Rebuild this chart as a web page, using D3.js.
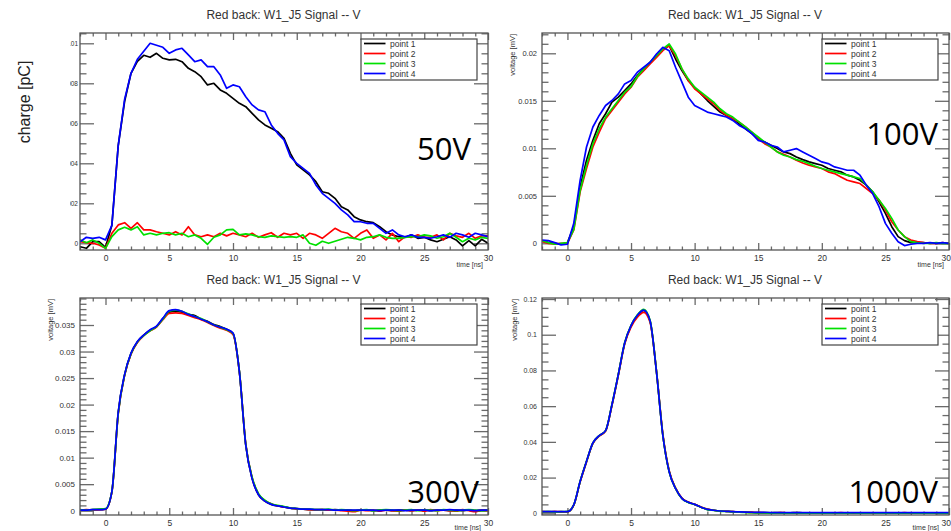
<!DOCTYPE html>
<html><head><meta charset="utf-8">
<script src="https://cdn.jsdelivr.net/npm/d3@7"></script>
<style>body{margin:0;background:#fff;}svg{display:block;}</style>
</head><body>
<svg id="c" width="951" height="531"></svg>
<script>
// ---------- DATA ----------
const seriesNames = ["point 1", "point 2", "point 3", "point 4"];
const seriesColors = ["#000000", "#ff0000", "#00e000", "#0000ff"];
const panelTitle = "Red back: W1_J5 Signal -- V";
const voltageTags = ["50V", "100V", "300V", "1000V"];
const xTickValues = [0, 5, 10, 15, 20, 25, 30];
const xTickLabels = ["0", "5", "10", "15", "20", "25", "30"];

// time samples [ns]
const time = [-2,-1.5,-1,-0.5,0,
  0.5,1,1.5,2,2.5,3,3.5,4,4.5,5,5.5,6,6.5,7,7.5,8,8.5,9,9.5,10,
  10.5,11,11.5,12,12.5,13,13.5,14,14.5,15,15.5,16,16.5,17,17.5,18,18.5,19,19.5,20,
  20.5,21,21.5,22,22.5,23,23.5,24,24.5,25,25.5,26,26.5,27,27.5,28,28.5,29,29.5,30];

// 50V  (charge [pC])
const yTicks50 = [0, 0.002, 0.004, 0.006, 0.008, 0.01];
const yTickLabels50 = ["0", "0.002", "0.004", "0.006", "0.008", "0.01"];
const v50_p1 = [-0.00017,-0.00025,0.00008,0.00008,-0.0002,
  0.0009,0.0049,0.0071,0.0085,0.0091,0.0094,0.0093,0.0095,0.00925,0.00917,0.0092,0.00908,0.00875,0.00858,0.00833,0.00792,0.008,0.00767,0.0075,0.00725,
  0.007,0.00683,0.0065,0.00617,0.00592,0.00575,0.00558,0.00525,0.0045,0.00392,0.00367,0.00342,0.00308,0.00258,0.0025,0.00225,0.00183,0.00167,0.00133,0.00117,
  0.00108,0.00103,0.00083,0.00058,0.00042,0.00033,0.0003,0.00042,0.00025,0.0003,0.00017,0.00008,0.0002,0.00033,0.00017,-0.00013,0.00013,-0.00013,0.0002,0];
const v50_p2 = [0.00008,0.00003,0,-0.00008,-0.00025,
  0.0005,0.00092,0.00103,0.00075,0.00103,0.00067,0.00067,0.00058,0.0005,0.00042,0.00058,0.00042,0.00083,0.00042,0.00033,0.00042,0.00033,0.0005,0.00037,0.0005,
  0.00042,0.00033,0.0005,0.0003,0.00042,0.00053,0.0003,0.0005,0.00042,0.0005,0.00025,0.0005,0.00042,0.00025,0.0005,0.00075,0.00058,0.0005,0.00025,0.0005,
  0.00067,0.00025,0.00042,0.00017,0.0005,0.00008,0.00033,0.0003,0.00042,0.0003,0.0003,0.00042,0.00017,0.0005,0.00037,0.0003,0.0005,0.00025,0.00037,0.00037];
const v50_p3 = [0.00017,0.00003,0.00017,0,-0.00025,
  0.00033,0.00067,0.0008,0.00067,0.00083,0.00042,0.0005,0.00042,0.0005,0.00053,0.00042,0.0005,0.00033,0.00042,0.00025,-0.00005,0.0003,0.00042,0.00067,0.0007,
  0.00042,0.00047,0.00042,0.00033,0.0003,0.00037,0.00033,0.0003,0.00033,0.0003,0.00042,0,-0.0001,0.0001,0,0.0001,0.0002,0.0003,0.00025,0.00017,
  0.0003,0.00033,0.00042,0.0003,0.00025,0.00025,0.0003,0.00033,0.00033,0.00042,0.00037,0.00025,0.00033,0.0005,0.0003,0.00008,0.00025,0.00017,0.0003,0.00025];
const v50_p4 = [0.00008,0.0003,0.00025,0.0003,0.00017,
  0.0009,0.0049,0.0072,0.0085,0.0092,0.0096,0.01,0.0099,0.0098,0.0095,0.00967,0.00975,0.00942,0.00908,0.00917,0.00883,0.00883,0.00842,0.00775,0.00792,
  0.00783,0.00733,0.00692,0.00667,0.00658,0.00592,0.0055,0.00517,0.00433,0.004,0.00375,0.0035,0.00292,0.0025,0.00225,0.002,0.00167,0.00142,0.00108,0.00108,
  0.001,0.001,0.00075,0.0005,0.00067,0.00042,0.00033,0.00042,0.0003,0.0003,0.00025,0.00033,0.00042,0.0003,0.0005,0.00042,0.0003,0.0005,0.00042,0.00033];

// 100V (voltage [mV])
const yTicks100 = [0, 0.005, 0.01, 0.015, 0.02];
const yTickLabels100 = ["0", "0.005", "0.01", "0.015", "0.02"];
const v100_p1 = [0.00028,0.00007,0,-0.0001,0.00007,
  0.00175,0.00594,0.00874,0.01084,0.01259,0.01364,0.01486,0.01538,0.01608,0.01678,0.01766,0.01836,0.01906,0.01976,0.0204,0.0208,0.0194,0.01818,0.01713,0.01643,
  0.01573,0.01503,0.01441,0.01381,0.01346,0.01311,0.01259,0.01206,0.01154,0.01101,0.01066,0.01031,0.00997,0.00962,0.00944,0.00909,0.00881,0.00857,0.00839,0.00822,
  0.00787,0.00769,0.00752,0.00717,0.00699,0.00664,0.00612,0.00542,0.00437,0.00315,0.00175,0.0007,0.00028,0.00007,0.00007,0.00007,0,0,0,0];
const v100_p2 = [0.00017,0,-0.00007,0,0,
  0.0014,0.00542,0.00787,0.01014,0.01171,0.01311,0.01399,0.01486,0.01573,0.01643,0.01748,0.01818,0.01888,0.01958,0.02028,0.0208,0.01976,0.01836,0.01713,0.01626,
  0.01573,0.01521,0.01469,0.01399,0.01346,0.01311,0.01276,0.01224,0.01171,0.01101,0.01049,0.01014,0.00962,0.00937,0.00909,0.00874,0.00846,0.00822,0.00804,0.00787,
  0.00752,0.00734,0.00699,0.00664,0.00647,0.00629,0.00577,0.00524,0.00455,0.0035,0.00227,0.0014,0.0007,0.00035,0.00017,0.00007,0,0,0.00007,0];
const v100_p3 = [0.00028,0.00007,-0.0001,0,0.00007,
  0.00147,0.00559,0.00822,0.01049,0.01206,0.01329,0.01416,0.01503,0.01591,0.0165,0.01755,0.01836,0.01906,0.01976,0.02045,0.02098,0.01993,0.01836,0.01731,0.01643,
  0.01591,0.01538,0.01486,0.01416,0.01364,0.01329,0.01276,0.01224,0.01171,0.01119,0.01066,0.01014,0.00962,0.00927,0.00909,0.00881,0.00864,0.00839,0.00811,0.00787,
  0.00769,0.00752,0.00734,0.00717,0.00699,0.00682,0.00612,0.00542,0.00455,0.00367,0.00262,0.0014,0.0007,0.00017,0.00007,0,0,0.00007,0,0];
const v100_p4 = [0.00035,0.00028,0.00007,-0.00017,-0.0001,
  0.0021,0.00664,0.01014,0.01224,0.01346,0.01451,0.01503,0.01573,0.01678,0.01713,0.01801,0.01853,0.01906,0.01993,0.02063,0.02028,0.01853,0.01696,0.01538,0.01451,
  0.01416,0.01381,0.01364,0.01346,0.01329,0.01294,0.01241,0.01206,0.01154,0.01084,0.01066,0.01031,0.01014,0.00962,0.00979,0.00997,0.00962,0.00927,0.00892,0.00857,
  0.00839,0.00804,0.00787,0.00769,0.00769,0.00717,0.00612,0.00524,0.00385,0.0021,0.00105,0.00017,-0.00024,-0.0001,0,0,0.00007,0,0.00007,0];

// 300V (voltage [mV])
const yTicks300 = [0, 0.005, 0.01, 0.015, 0.02, 0.025, 0.03, 0.035];
const yTickLabels300 = ["0", "0.005", "0.01", "0.015", "0.02", "0.025", "0.03", "0.035"];
const v300_p1 = [0.0001,0.0001,0.0002,0.0002,0.0003,
  0.0036,0.0185,0.0256,0.0296,0.0318,0.0331,0.034,0.0347,0.0362,0.0374,0.0376,0.0374,0.037,0.0368,0.0361,0.0357,0.0351,0.0347,0.0342,0.0334,
  0.0262,0.0124,0.0061,0.003,0.0018,0.0012,0.0009,0.0007,0.0005,0.0004,0.0003,0.0002,0.0002,0.0002,0.0001,0.0002,0.0001,0.0001,0,0.0001,
  0.0001,0,0.0001,0.0001,0,0.0001,0.0001,0,0.0001,0.0001,0,0.0001,0.0001,0,0.0001,0,0.0001,0,0.0001,0.0001];
const v300_p2 = [0.0001,0.0002,0.0001,0.0002,0.0003,
  0.0035,0.0183,0.0255,0.0295,0.0317,0.033,0.0339,0.0346,0.036,0.0372,0.0373,0.0372,0.0368,0.0364,0.036,0.0355,0.0349,0.0344,0.034,0.0332,
  0.0262,0.0126,0.0062,0.0031,0.0019,0.0013,0.0009,0.0007,0.0005,0.0003,0.0003,0.0002,0.0001,0.0002,0.0001,0.0001,0,-0.0001,-0.0002,0.0001,
  0,0.0001,-0.0001,0.0001,0,-0.0001,0.0001,0,0.0001,-0.0001,0.0002,0,0.0001,0,-0.0001,0.0002,0,-0.0002,0.0001,0];
const v300_p3 = [0.0002,0.0001,0.0002,0.0003,0.0004,
  0.0036,0.0184,0.0256,0.0296,0.0318,0.033,0.0339,0.0347,0.0361,0.0376,0.0378,0.0376,0.0371,0.0366,0.0362,0.0356,0.035,0.0346,0.0341,0.0334,
  0.0263,0.0125,0.0063,0.0032,0.002,0.0013,0.001,0.0008,0.0005,0.0004,0.0003,0.0003,0.0002,0.0002,0.0003,0.0001,0.0002,0.0001,0,0.0001,
  0.0002,0,0.0001,0.0002,0.0001,0,0.0001,0.0002,0,0.0001,0.0001,0,0.0002,0.0001,0,0.0001,0.0002,0.0001,0,0.0001];
const v300_p4 = [0.0001,0.0001,0.0002,0.0002,0.0003,
  0.0036,0.0186,0.0257,0.0297,0.0319,0.0331,0.0341,0.0348,0.0363,0.0377,0.0379,0.0376,0.037,0.0366,0.0361,0.0356,0.035,0.0346,0.0342,0.0335,
  0.0262,0.0124,0.006,0.003,0.0018,0.0012,0.0009,0.0007,0.0005,0.0004,0.0003,0.0003,0.0002,0.0002,0.0002,0.0001,0.0001,0.0001,0.0001,0.0001,
  0.0001,0.0001,0,0.0001,0.0001,0.0001,0,0.0001,0.0001,0.0001,0,0.0001,0.0001,0.0002,0.0001,0.0001,0.0001,0,0.0001,0.0001];

// 1000V (voltage [mV])
const yTicks1000 = [0, 0.02, 0.04, 0.06, 0.08, 0.1, 0.12];
const yTickLabels1000 = ["0", "0.02", "0.04", "0.06", "0.08", "0.1", "0.12"];
const v1000_p1 = [0.0009,0.0009,0.0009,0.0008,0.0009,
  0.0047,0.0178,0.029,0.0393,0.0434,0.0462,0.0607,0.0776,0.0953,0.105,0.1107,0.1136,0.1075,0.0794,0.0439,0.0234,0.014,0.0084,0.0062,0.005,
  0.0034,0.0022,0.0017,0.0013,0.0011,0.0009,0.0008,0.0006,0.0005,0.0004,0.0004,0.0003,0.0004,0.0003,0.0003,0.0004,0.0003,0.0003,0.0002,0.0003,
  0.0003,0.0002,0.0003,0.0003,0.0002,0.0003,0.0002,0.0003,0.0002,0.0002,0.0003,0.0002,0.0002,0.0003,0.0002,0.0002,0.0003,0.0002,0.0002,0.0002];
const v1000_p2 = [0.0009,0.0008,0.0009,0.0009,0.0008,
  0.0046,0.0176,0.0288,0.0391,0.0432,0.046,0.0604,0.0772,0.0948,0.1043,0.1098,0.1125,0.1068,0.0796,0.0445,0.0238,0.0142,0.0086,0.0063,0.005,
  0.0035,0.0023,0.0017,0.0013,0.0011,0.0009,0.0007,0.0006,0.0005,0.0004,0.0003,0.0003,0.0003,0.0004,0.0002,0.0003,0.0003,0.0002,0.0003,0.0002,
  0.0003,0.0002,0.0004,0.0002,0.0003,0.0002,0.0003,0.0001,0.0003,0.0002,0.0003,0.0002,0.0004,0.0002,0.0002,0.0003,0.0002,0.0003,0.0002,0.0003];
const v1000_p3 = [0.0008,0.0009,0.0008,0.0009,0.0009,
  0.0047,0.018,0.0291,0.0394,0.0435,0.0463,0.0609,0.0778,0.0955,0.1053,0.1111,0.1142,0.108,0.0795,0.0438,0.0233,0.0139,0.0083,0.0061,0.0049,
  0.0034,0.0021,0.0016,0.0012,0.001,0.0008,0.0006,0.0005,0.0003,0.0002,0.0002,0.0001,0.0002,0.0001,0.0001,0.0002,0.0001,0.0001,0.0001,0.0001,
  0.0001,0.0002,0.0001,0.0001,0.0002,0.0001,0.0001,0.0002,0.0001,0.0001,0.0002,0.0001,0.0001,0.0002,0.0001,0.0001,0.0001,0.0002,0.0001,0.0001];
const v1000_p4 = [0.0009,0.0009,0.0009,0.0009,0.0009,
  0.0048,0.0179,0.0291,0.0394,0.0435,0.0463,0.0608,0.0777,0.0954,0.1051,0.1109,0.1138,0.1077,0.0793,0.0437,0.0233,0.0139,0.0084,0.0062,0.005,
  0.0034,0.0022,0.0017,0.0013,0.0011,0.0009,0.0008,0.0007,0.0006,0.0005,0.0005,0.0004,0.0004,0.0004,0.0004,0.0004,0.0004,0.0004,0.0004,0.0004,
  0.0004,0.0004,0.0004,0.0004,0.0004,0.0004,0.0004,0.0004,0.0004,0.0004,0.0004,0.0004,0.0004,0.0004,0.0004,0.0004,0.0004,0.0004,0.0004,0.0004];

// ---------- LAYOUT ----------
const panels = [
  { x0: 80, x1: 488, y0: 33, y1: 250, yDom: [-0.000335, 0.010515], ticks: yTicks50, labels: yTickLabels50, minor: 0.0005,
    series: [v50_p1, v50_p2, v50_p3, v50_p4], tag: voltageTags[0], tagX: 471, tagY: 160, yLabFont: 6.5, labClip: 70,
    yTitle: null, curve: d3.curveLinear, xtEnd: 5 },
  { x0: 542, x1: 949, y0: 33, y1: 250, yDom: [-0.000705, 0.022137], ticks: yTicks100, labels: yTickLabels100, minor: 0.001,
    series: [v100_p1, v100_p2, v100_p3, v100_p4], tag: voltageTags[1], tagX: 938, tagY: 145, yLabFont: 7.5,
    yTitle: [514.5, 34], curve: d3.curveLinear, xtEnd: 5 },
  { x0: 80, x1: 488, y0: 298, y1: 515, yDom: [-0.00081, 0.04009], ticks: yTicks300, labels: yTickLabels300, minor: 0.001,
    series: [v300_p1, v300_p2, v300_p3, v300_p4], tag: voltageTags[2], tagX: 479, tagY: 503, yLabFont: 8,
    yTitle: [53, 299], curve: d3.curveMonotoneX, xtEnd: 7 },
  { x0: 542, x1: 949, y0: 298, y1: 515, yDom: [-0.00095, 0.12056], ticks: yTicks1000, labels: yTickLabels1000, minor: 0.005,
    series: [v1000_p1, v1000_p2, v1000_p3, v1000_p4], tag: voltageTags[3], tagX: 938, tagY: 503, yLabFont: 7,
    yTitle: [516.5, 299], curve: d3.curveMonotoneX, xtEnd: 10 }
];

const W = 951, H = 531;
const svg = d3.select("#c");
const FONT = "'Liberation Sans', Arial, sans-serif";
const TICKC = "#6a6a6a";

function minorVals(step, lo, hi, majors) {
  const out = [];
  const n0 = Math.ceil(lo / step), n1 = Math.floor(hi / step);
  for (let n = n0; n <= n1; n++) {
    const v = +(n * step).toFixed(6);
    if (!majors.some(m => Math.abs(m - v) < step / 10)) out.push(v);
  }
  return out;
}

function styleAxis(sel) {
  sel.select(".domain").remove();
  sel.selectAll(".tick line").attr("stroke", TICKC).attr("stroke-width", 1.3);
  sel.selectAll(".tick text").attr("fill", "#333").attr("font-family", FONT);
}

panels.forEach((p, i) => {
  const x = d3.scaleLinear().domain([-2, 30]).range([p.x0, p.x1]);
  const y = d3.scaleLinear().domain(p.yDom).range([p.y1, p.y0]);
  const g = svg.append("g");
  const xMinor = minorVals(1, -2, 30, xTickValues);
  const yMinor = minorVals(p.minor, p.yDom[0], p.yDom[1], p.ticks);

  // x axes (bottom with labels, top mirrored)
  const bx = g.append("g").attr("transform", `translate(0,${p.y1})`)
    .call(d3.axisBottom(x).tickValues(xTickValues).tickSize(-7).tickPadding(5)
      .tickFormat((d, k) => xTickLabels[k]))
    .call(styleAxis).call(s => s.selectAll("text").attr("font-size", 8.5));
  // keep the right-most label inside the window
  bx.selectAll(".tick text").filter(d => x(d) + 5 > W).attr("text-anchor", "end").attr("x", W - 0.5 - x(30));
  g.append("g").attr("transform", `translate(0,${p.y1})`)
    .call(d3.axisBottom(x).tickValues(xMinor).tickSize(-3.5).tickFormat(""))
    .call(styleAxis);
  g.append("g").attr("transform", `translate(0,${p.y0})`)
    .call(d3.axisTop(x).tickValues(xTickValues).tickSize(-7).tickFormat(""))
    .call(styleAxis);
  g.append("g").attr("transform", `translate(0,${p.y0})`)
    .call(d3.axisTop(x).tickValues(xMinor).tickSize(-3.5).tickFormat(""))
    .call(styleAxis);

  // y axes
  const left = g.append("g").attr("transform", `translate(${p.x0},0)`)
    .call(d3.axisLeft(y).tickValues(p.ticks).tickSize(-14).tickPadding(p.labClip ? 2 : 5)
      .tickFormat((d, k) => p.labels[k]))
    .call(styleAxis).call(s => s.selectAll("text").attr("font-size", p.yLabFont));
  if (p.labClip) {
    // the labels of this panel are cropped on their left side, as in the source picture
    svg.append("clipPath").attr("id", "labclip" + i).append("rect")
      .attr("x", p.labClip - p.x0).attr("y", p.y0 - 10).attr("width", 40).attr("height", p.y1 - p.y0 + 20);
    left.attr("clip-path", `url(#labclip${i})`);
  }
  g.append("g").attr("transform", `translate(${p.x0},0)`)
    .call(d3.axisLeft(y).tickValues(yMinor).tickSize(-6.5).tickFormat(""))
    .call(styleAxis);
  g.append("g").attr("transform", `translate(${p.x1},0)`)
    .call(d3.axisRight(y).tickValues(p.ticks).tickSize(-14).tickFormat(""))
    .call(styleAxis);
  g.append("g").attr("transform", `translate(${p.x1},0)`)
    .call(d3.axisRight(y).tickValues(yMinor).tickSize(-6.5).tickFormat(""))
    .call(styleAxis);

  // clip for curves
  svg.append("clipPath").attr("id", "plot" + i).append("rect")
    .attr("x", p.x0).attr("y", p.y0).attr("width", p.x1 - p.x0).attr("height", p.y1 - p.y0);

  const line = d3.line().x((d, k) => x(time[k])).y(d => y(d)).curve(p.curve);
  p.series.forEach((s, k) => {
    g.append("path").datum(s).attr("d", line).attr("clip-path", `url(#plot${i})`)
      .attr("fill", "none").attr("stroke", seriesColors[k]).attr("stroke-width", 1.7)
      .attr("stroke-linejoin", "round");
  });

  // frame
  g.append("rect").attr("x", p.x0).attr("y", p.y0).attr("width", p.x1 - p.x0).attr("height", p.y1 - p.y0)
    .attr("fill", "none").attr("stroke", "#555").attr("stroke-width", 1.3);

  // title
  g.append("text").attr("x", (p.x0 + p.x1) / 2 - 0.5).attr("y", p.y0 - 14.5).attr("text-anchor", "middle")
    .attr("font-family", FONT).attr("font-size", 12).attr("fill", "#333").text(panelTitle);

  // x title (kept inside the window, clear of the last tick label)
  g.append("text").attr("x", p.x1 - p.xtEnd).attr("y", Math.min(p.y1 + 17, H - 1)).attr("text-anchor", "end")
    .attr("font-family", FONT).attr("font-size", 7).attr("fill", "#333").text("time [ns]");

  // y title
  if (p.yTitle) {
    g.append("text").attr("transform", `translate(${p.yTitle[0]},${p.yTitle[1]}) rotate(-90)`)
      .attr("text-anchor", "end").attr("font-family", FONT).attr("font-size", 7.5).attr("fill", "#333")
      .text("voltage [mV]");
  }

  // legend
  const lx = p.x1 - 127, ly = p.y0 + 6;
  const lg = g.append("g").attr("transform", `translate(${lx},${ly})`);
  lg.append("rect").attr("x", 0).attr("y", 0).attr("width", 116).attr("height", 41)
    .attr("fill", "#fff").attr("stroke", "#444").attr("stroke-width", 1.2);
  seriesNames.forEach((nm, k) => {
    const yy = 4.5 + k * 10;
    lg.append("line").attr("x1", 3).attr("x2", 24.5).attr("y1", yy).attr("y2", yy)
      .attr("stroke", seriesColors[k]).attr("stroke-width", 1.7);
    lg.append("text").attr("x", 29).attr("y", yy + 3).attr("font-family", FONT).attr("font-size", 8.5)
      .attr("fill", "#333").text(nm);
  });

  // big voltage tag
  g.append("text").attr("x", p.tagX).attr("y", p.tagY).attr("text-anchor", "end")
    .attr("font-family", "'Open Sans', 'Liberation Sans', sans-serif").attr("font-size", 31)
    .attr("fill", "#000").text(p.tag);
});

// left y title for 50V panel
svg.append("text").attr("transform", "translate(30,102) rotate(-90)").attr("text-anchor", "middle")
  .attr("font-family", FONT).attr("font-size", 16).attr("fill", "#222").text("charge [pC]");
</script>
</body></html>
